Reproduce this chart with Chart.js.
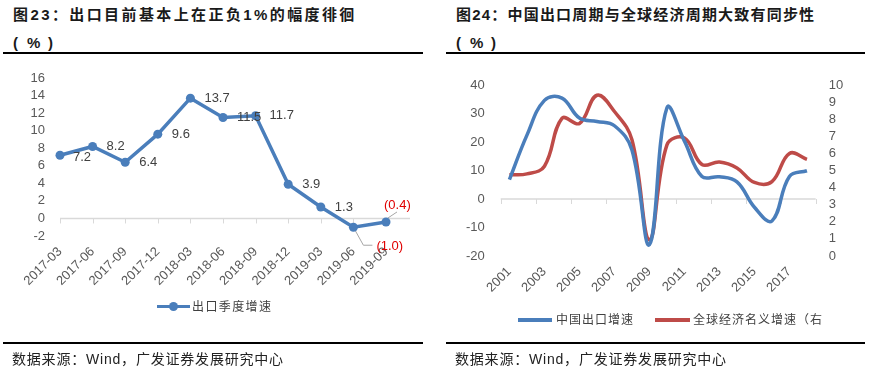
<!DOCTYPE html>
<html><head><meta charset="utf-8">
<script src="https://cdn.jsdelivr.net/npm/chart.js@4.4.1/dist/chart.umd.min.js"></script>
<style>
body{margin:0;width:870px;height:371px;background:#fff;position:relative;overflow:hidden;font-family:"Liberation Sans","Noto Sans CJK SC",sans-serif;text-spacing-trim:space-all;}
.abs{position:absolute;white-space:nowrap;text-spacing-trim:space-all;}
.title{font-weight:bold;font-size:15px;line-height:20px;color:#1a1a1a;}
.rule{position:absolute;background:#000;}
.src{font-size:14px;line-height:20px;color:#222;letter-spacing:0.8px;}
.leg{font-size:12px;line-height:16px;color:#404040;letter-spacing:1.4px;}
canvas{position:absolute;top:0;}
</style></head>
<body>
<div class="abs title" style="left:13px;top:5px;letter-spacing:2.4px;">图23：出口目前基本上在正负1%的幅度徘徊</div>
<div class="abs title" style="left:13px;top:33px;">(</div>
<div class="abs title" style="left:27px;top:33px;">%</div>
<div class="abs title" style="left:48px;top:33px;">)</div>
<div class="rule" style="left:3px;top:52px;width:420px;height:2px;"></div>
<div class="abs title" style="left:456px;top:5px;letter-spacing:1.2px;">图24：中国出口周期与全球经济周期大致有同步性</div>
<div class="abs title" style="left:456px;top:33px;">(</div>
<div class="abs title" style="left:470px;top:33px;">%</div>
<div class="abs title" style="left:491px;top:33px;">)</div>
<div class="rule" style="left:446px;top:52px;width:419px;height:2px;"></div>

<canvas id="c1" width="435" height="371" style="left:0;"></canvas>
<canvas id="c2" width="435" height="371" style="left:435px;"></canvas>

<div class="abs" style="left:157px;top:305px;width:33px;height:3px;background:#4a7ebb;"></div>
<div class="abs" style="left:169px;top:302px;width:9px;height:9px;border-radius:50%;background:#4a7ebb;"></div>
<div class="abs leg" style="left:192px;top:299px;">出口季度增速</div>

<div class="abs" style="left:518px;top:318px;width:34px;height:3.5px;background:#4a7ebb;"></div>
<div class="abs leg" style="left:556px;top:312px;letter-spacing:1px;">中国出口增速</div>
<div class="abs" style="left:655px;top:318px;width:35px;height:3.5px;background:#be4b48;"></div>
<div class="abs leg" style="left:693px;top:312px;letter-spacing:1px;">全球经济名义增速（右</div>

<div class="rule" style="left:3px;top:342px;width:420px;height:1.5px;"></div>
<div class="abs src" style="left:12px;top:349px;">数据来源：Wind，广发证券发展研究中心</div>
<div class="rule" style="left:446px;top:342px;width:419px;height:1.5px;"></div>
<div class="abs src" style="left:455px;top:349px;">数据来源：Wind，广发证券发展研究中心</div>

<script>
// ---- data: chart 23 ----
const quarters = ['2017-03','2017-06','2017-09','2017-12','2018-03','2018-06','2018-09','2018-12','2019-03','2019-06','2019-09'];
const exportGrowth = [7.2, 8.2, 6.4, 9.6, 13.7, 11.5, 11.7, 3.9, 1.3, -1.0, -0.4];
const leftTicks = {min: -2, max: 16, step: 2};

// ---- data: chart 24 ----
const years = ['2001','2002','2003','2004','2005','2006','2007','2008','2009','2010','2011','2012','2013','2014','2015','2016','2017','2018'];
const chinaExport = [6.8, 22.4, 34.6, 35.4, 28.4, 27.2, 25.7, 17.2, -16.0, 32.0, 20.3, 7.9, 7.8, 6.0, -2.9, -7.7, 7.9, 9.9];
const worldNominal = [4.75, 4.8, 5.25, 8.05, 7.75, 9.4, 8.45, 6.8, 0.95, 6.5, 6.9, 5.35, 5.5, 5.15, 4.3, 4.35, 6.0, 5.65];
const rightTicksL = {min: -20, max: 40, step: 10};
const rightTicksR = {min: 0, max: 10, step: 1};

const BLUE = '#4a7ebb', RED = '#be4b48', AXIS = '#d9d9d9', TXT = '#595959';
const FONT = '"Liberation Sans", Arial, sans-serif';

function fmt(v){ return v < 0 ? '(' + Math.abs(v).toFixed(1) + ')' : v.toFixed(1); }

const leftDecor = {
  id: 'leftDecor',
  beforeDatasetsDraw(chart){
    const {ctx, scales:{x, y}} = chart;
    const y0 = y.getPixelForValue(0);
    ctx.save();
    ctx.strokeStyle = AXIS; ctx.lineWidth = 1.5;
    ctx.beginPath();
    ctx.moveTo(x.getPixelForValue(0), y0);
    ctx.lineTo(x.getPixelForValue(quarters.length - 1) + 24, y0);
    ctx.stroke();
    ctx.lineWidth = 1;
    quarters.forEach((q, i) => {
      const px = Math.round(x.getPixelForValue(i)) + 0.5;
      ctx.beginPath(); ctx.moveTo(px, y0); ctx.lineTo(px, y0 + 5); ctx.stroke();
    });
    ctx.strokeStyle = '#a6a6a6'; ctx.lineWidth = 1;
    const p9x = x.getPixelForValue(9), p9y = y.getPixelForValue(exportGrowth[9]);
    ctx.beginPath(); ctx.moveTo(p9x, p9y); ctx.lineTo(p9x + 10, p9y + 18); ctx.lineTo(p9x + 19, p9y + 18); ctx.stroke();
    const p10x = x.getPixelForValue(10), p10y = y.getPixelForValue(exportGrowth[10]);
    ctx.beginPath(); ctx.moveTo(p10x + 2, p10y - 4); ctx.lineTo(p10x + 11, p10y - 10); ctx.stroke();
    ctx.restore();
  },
  afterDatasetsDraw(chart){
    const {ctx, scales:{x, y}} = chart;
    ctx.save();
    ctx.font = '13px ' + FONT;
    ctx.textBaseline = 'middle';
    ctx.textAlign = 'left';
    exportGrowth.forEach((v, i) => {
      const px = x.getPixelForValue(i), py = y.getPixelForValue(v);
      const s = fmt(v);
      if (i === 9) { ctx.fillStyle = '#e00000'; ctx.fillText(s, px + 23, py + 19); }
      else if (i === 10) { ctx.fillStyle = '#e00000'; ctx.fillText(s, px - 2, py - 17); }
      else if (i === 0) { ctx.fillStyle = '#404040'; ctx.fillText(s, px + 13, py + 2); }
      else { ctx.fillStyle = '#404040'; ctx.fillText(s, px + 14, py); }
    });
    ctx.restore();
  }
};

new Chart(document.getElementById('c1'), {
  type: 'line',
  data: { labels: quarters, datasets: [{
    data: exportGrowth, borderColor: BLUE, backgroundColor: BLUE, borderWidth: 3.5,
    pointRadius: 4.5, pointHoverRadius: 4.5, pointBackgroundColor: BLUE, pointBorderWidth: 0,
    tension: 0, clip: false
  }]},
  options: {
    responsive: false, animation: false,
    layout: { padding: { left: 0, right: 49, top: 78, bottom: 75 } },
    plugins: { legend: { display: false }, tooltip: { enabled: false } },
    scales: {
      x: {
        type: 'category', offset: false,
        grid: { display: false, drawTicks: false }, border: { display: false },
        ticks: { autoSkip: false, minRotation: 45, maxRotation: 45, padding: 8, color: TXT, font: { family: FONT, size: 13 } },
        afterFit(s){ s.height = 60; }
      },
      y: {
        min: leftTicks.min, max: leftTicks.max,
        grid: { display: false, drawTicks: false }, border: { display: false },
        ticks: { stepSize: leftTicks.step, autoSkip: false, padding: 15, color: TXT, font: { family: FONT, size: 13 } },
        afterFit(s){ s.width = 60; }
      }
    }
  },
  plugins: [leftDecor]
});

const rightDecor = {
  id: 'rightDecor',
  beforeDatasetsDraw(chart){
    const {ctx, scales:{x, y}} = chart;
    const y0 = y.getPixelForValue(0);
    const half = (x.getPixelForValue(1) - x.getPixelForValue(0)) / 2;
    ctx.save();
    ctx.strokeStyle = AXIS; ctx.lineWidth = 1.5;
    ctx.beginPath();
    ctx.moveTo(x.getPixelForValue(0) - half, y0);
    ctx.lineTo(x.getPixelForValue(years.length - 1) + half, y0);
    ctx.stroke();
    ctx.lineWidth = 1;
    for (let k = 0; k <= years.length; k += 2) {
      const px = Math.round(x.getPixelForValue(k) - half) + 0.5;
      ctx.beginPath(); ctx.moveTo(px, y0); ctx.lineTo(px, y0 + 5); ctx.stroke();
    }
    ctx.restore();
  }
};

new Chart(document.getElementById('c2'), {
  type: 'line',
  data: { labels: years, datasets: [
    { data: chinaExport, yAxisID: 'y', borderColor: BLUE, borderWidth: 3.5, pointRadius: 0, tension: 0.4, clip: false },
    { data: worldNominal, yAxisID: 'y1', borderColor: RED, borderWidth: 3.5, pointRadius: 0, tension: 0.4, clip: false }
  ]},
  options: {
    responsive: false, animation: false,
    layout: { padding: { left: 0, right: 0, top: 85, bottom: 65 } },
    plugins: { legend: { display: false }, tooltip: { enabled: false } },
    scales: {
      x: {
        type: 'category', offset: true,
        grid: { display: false, drawTicks: false }, border: { display: false },
        ticks: { autoSkip: false, minRotation: 45, maxRotation: 45, padding: 8, color: TXT, font: { family: FONT, size: 13 },
          callback(v, i){ return i % 2 === 0 ? years[i] : ''; } },
        afterFit(s){ s.height = 50; }
      },
      y: {
        position: 'left', min: rightTicksL.min, max: rightTicksL.max,
        grid: { display: false, drawTicks: false }, border: { display: false },
        ticks: { stepSize: rightTicksL.step, autoSkip: false, padding: 16, color: TXT, font: { family: FONT, size: 13 } },
        afterFit(s){ s.width = 65.7; }
      },
      y1: {
        position: 'right', min: rightTicksR.min, max: rightTicksR.max,
        grid: { display: false, drawTicks: false }, border: { display: false },
        ticks: { stepSize: rightTicksR.step, autoSkip: false, padding: 13, color: TXT, font: { family: FONT, size: 13 } },
        afterFit(s){ s.width = 54.3; }
      }
    }
  },
  plugins: [rightDecor]
});
</script>
</body></html>
